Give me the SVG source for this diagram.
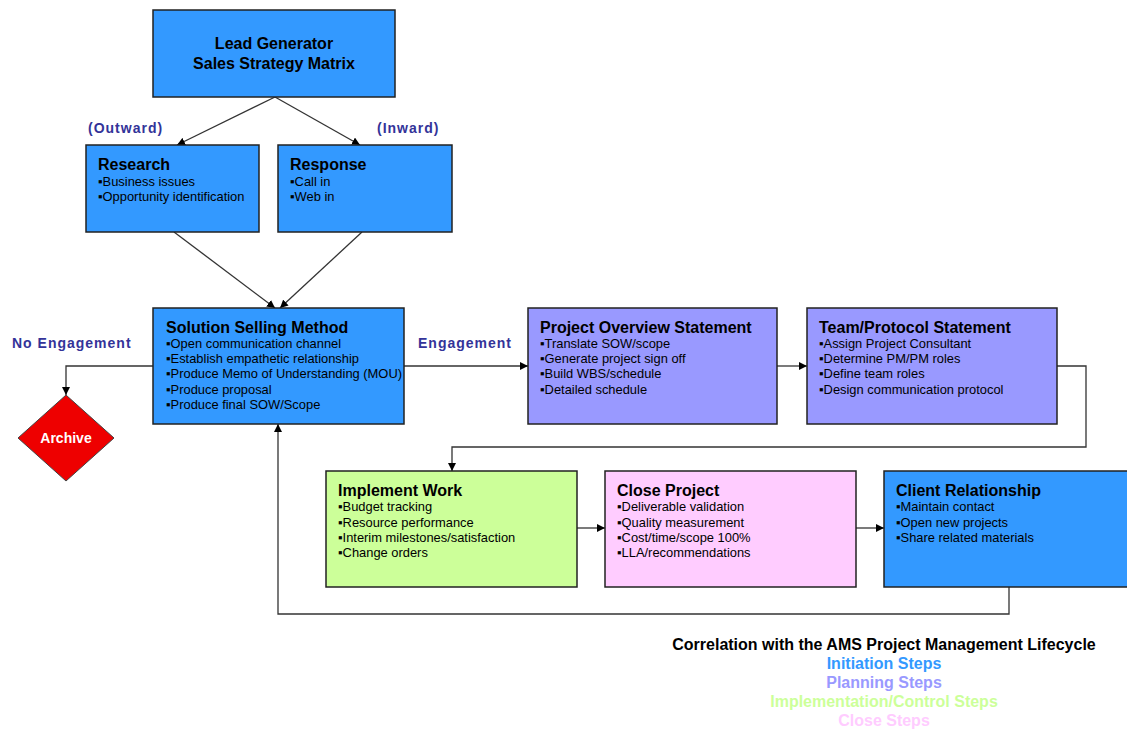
<svg xmlns="http://www.w3.org/2000/svg" width="1127" height="729" viewBox="0 0 1127 729">
<style>
.box{stroke:#222;stroke-width:1.5}
.blue{fill:#3399FF}.purple{fill:#9999FF}.green{fill:#CCFF99}.pink{fill:#FFCCFF}
.t{font-family:"Liberation Sans",Arial,sans-serif;font-weight:bold;font-size:16px;fill:#000}
.b{font-family:"Liberation Sans",Arial,sans-serif;font-size:12.9px;fill:#000}
.n{font-family:"Liberation Sans",Arial,sans-serif;font-size:12.9px;fill:#000}
.lbl{font-family:"Liberation Sans",Arial,sans-serif;font-weight:bold;font-size:14px;letter-spacing:1px;fill:#333399}
.leg{font-family:"Liberation Sans",Arial,sans-serif;font-weight:bold;font-size:16px;text-anchor:middle}
.c{fill:none;stroke:#333;stroke-width:1.3}
</style>
<defs>
<marker id="ah" viewBox="0 0 10 10" refX="10" refY="5" markerWidth="8" markerHeight="8" markerUnits="userSpaceOnUse" orient="auto">
<path d="M0,0 L10,5 L0,10 Z" fill="#000"/>
</marker>
</defs>
<g id="connectors">
<line class="c" x1="275" y1="97" x2="177" y2="145" marker-end="url(#ah)"/>
<line class="c" x1="275" y1="97" x2="360" y2="145" marker-end="url(#ah)"/>
<line class="c" x1="174" y1="232" x2="275" y2="308" marker-end="url(#ah)"/>
<line class="c" x1="362" y1="232" x2="280" y2="308" marker-end="url(#ah)"/>
<polyline class="c" points="153,366 66,366 66,395" marker-end="url(#ah)"/>
<line class="c" x1="404" y1="366" x2="528" y2="366" marker-end="url(#ah)"/>
<line class="c" x1="777" y1="366" x2="807" y2="366" marker-end="url(#ah)"/>
<polyline class="c" points="1057,366 1086,366 1086,447 452,447 452,471" marker-end="url(#ah)"/>
<line class="c" x1="577" y1="528" x2="605" y2="528" marker-end="url(#ah)"/>
<line class="c" x1="856" y1="528" x2="884" y2="528" marker-end="url(#ah)"/>
<polyline class="c" points="1009,587 1009,614 278,614 278,424" marker-end="url(#ah)"/>
</g>
<g id="labels">
<text class="lbl" x="88" y="133">(Outward)</text>
<text class="lbl" x="377" y="133">(Inward)</text>
<text class="lbl" x="12" y="348">No Engagement</text>
<text class="lbl" x="418" y="348">Engagement</text>
</g>
<g id="lead">
<rect class="box blue" x="153" y="10" width="242" height="87"/>
<text class="t" x="274" y="49" text-anchor="middle">Lead Generator</text>
<text class="t" x="274" y="69" text-anchor="middle">Sales Strategy Matrix</text>
</g>
<g id="research">
<rect class="box blue" x="86" y="145" width="173" height="87"/>
<text class="t" x="98" y="170">Research</text>
<text class="b" x="98" y="186">▪Business issues</text>
<text class="b" x="98" y="201">▪Opportunity identification</text>
</g>
<g id="response">
<rect class="box blue" x="278" y="145" width="174" height="87"/>
<text class="t" x="290" y="170">Response</text>
<text class="b" x="290" y="186">▪Call in</text>
<text class="b" x="290" y="201">▪Web in</text>
</g>
<g id="solution">
<rect class="box blue" x="153" y="308" width="251" height="116"/>
<text class="t" x="166" y="333">Solution Selling Method</text>
<text class="b" x="166" y="348">▪Open communication channel</text>
<text class="b" x="166" y="363">▪Establish empathetic relationship</text>
<text class="b" x="166" y="378">▪Produce Memo of Understanding (MOU)</text>
<text class="b" x="166" y="394">▪Produce proposal</text>
<text class="b" x="166" y="409">▪Produce final SOW/Scope</text>
</g>
<g id="archive">
<polygon points="66,395 114,438 66,481 18,438" fill="#EE0000" stroke="#444" stroke-width="1"/>
<text x="66" y="443" text-anchor="middle" font-family="Liberation Sans, Arial, sans-serif" font-weight="bold" font-size="14" fill="#fff">Archive</text>
</g>
<g id="overview">
<rect class="box purple" x="528" y="308" width="249" height="116"/>
<text class="t" x="540" y="333">Project Overview Statement</text>
<text class="n" x="540" y="348">▪Translate SOW/scope</text>
<text class="n" x="540" y="363">▪Generate project sign off</text>
<text class="n" x="540" y="378">▪Build WBS/schedule</text>
<text class="n" x="540" y="394">▪Detailed schedule</text>
</g>
<g id="team">
<rect class="box purple" x="807" y="308" width="250" height="116"/>
<text class="t" x="819" y="333">Team/Protocol Statement</text>
<text class="n" x="819" y="348">▪Assign Project Consultant</text>
<text class="n" x="819" y="363">▪Determine PM/PM roles</text>
<text class="n" x="819" y="378">▪Define team roles</text>
<text class="n" x="819" y="394">▪Design communication protocol</text>
</g>
<g id="implement">
<rect class="box green" x="326" y="471" width="251" height="116"/>
<text class="t" x="338" y="496">Implement Work</text>
<text class="n" x="338" y="511">▪Budget tracking</text>
<text class="n" x="338" y="527">▪Resource performance</text>
<text class="n" x="338" y="542">▪Interim milestones/satisfaction</text>
<text class="n" x="338" y="557">▪Change orders</text>
</g>
<g id="close">
<rect class="box pink" x="605" y="471" width="251" height="116"/>
<text class="t" x="617" y="496">Close Project</text>
<text class="n" x="617" y="511">▪Deliverable validation</text>
<text class="n" x="617" y="527">▪Quality measurement</text>
<text class="n" x="617" y="542">▪Cost/time/scope 100%</text>
<text class="n" x="617" y="557">▪LLA/recommendations</text>
</g>
<g id="client">
<rect class="box blue" x="884" y="471" width="250" height="116"/>
<text class="t" x="896" y="496">Client Relationship</text>
<text class="n" x="896" y="511">▪Maintain contact</text>
<text class="n" x="896" y="527">▪Open new projects</text>
<text class="n" x="896" y="542">▪Share related materials</text>
</g>
<g id="legend">
<text class="leg" x="884" y="650" fill="#000">Correlation with the AMS Project Management Lifecycle</text>
<text class="leg" x="884" y="669" fill="#3399FF">Initiation Steps</text>
<text class="leg" x="884" y="688" fill="#9999FF">Planning Steps</text>
<text class="leg" x="884" y="707" fill="#CCFF99">Implementation/Control Steps</text>
<text class="leg" x="884" y="726" fill="#FFCCFF">Close Steps</text>
</g>
</svg>
